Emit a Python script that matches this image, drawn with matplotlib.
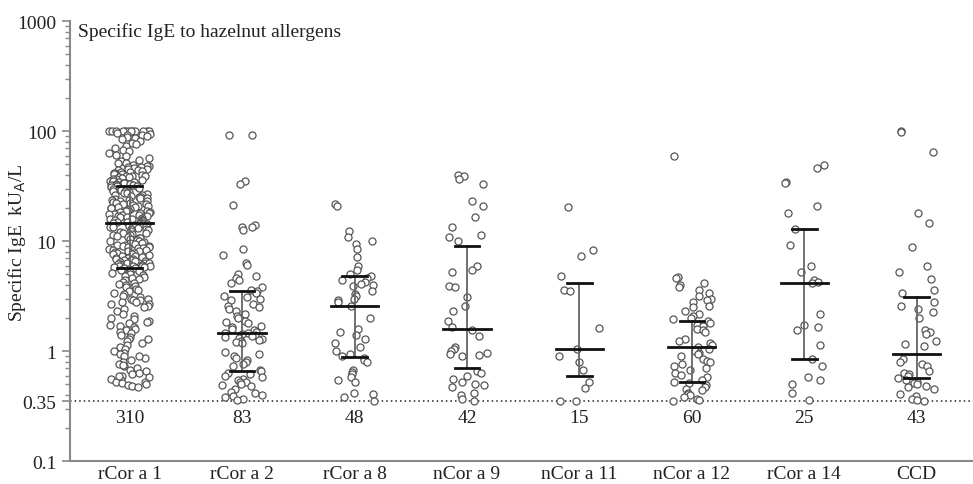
import matplotlib.pyplot as plt
import numpy as np
from matplotlib.ticker import FixedLocator, LogLocator, NullFormatter

plt.rcParams['font.family'] = ['Liberation Serif', 'DejaVu Serif']

allergens = ['rCor a 1', 'rCor a 2', 'rCor a 8', 'nCor a 9',
             'nCor a 11', 'nCor a 12', 'rCor a 14', 'CCD']

# specific IgE per patient, kUA/L (values < 0.35 shown at 0.35, > 100 at 100)
rcor_a1 = [
    100, 100, 100, 100, 100, 100, 100, 100, 100, 100,
    100, 100, 97, 95, 93, 92, 90, 88, 87, 85,
    82, 79, 76, 73, 70, 68, 66, 63, 61, 59,
    57, 55, 54, 52, 51, 49.5, 48.7, 47.9, 47.5, 47.1,
    46.3, 45.5, 45.0, 44.8, 44.1, 43.4, 43.0, 42.7, 42.0, 41.4,
    41.0, 40.8, 40.2, 39.6, 39.3, 39.0, 38.5, 38.0, 37.5, 37.2,
    37.0, 36.5, 36.0, 35.6, 35.4, 35.2, 34.8, 34.4, 34.0, 33.9,
    33.7, 33.4, 33.1, 32.8, 32.6, 32.5, 32.2, 31.9, 31.5, 31.0,
    30.6, 30.1, 29.7, 29.2, 28.8, 28.4, 28.0, 27.6, 27.2, 26.8,
    26.5, 26.1, 25.8, 25.4, 25.1, 24.8, 24.5, 24.2, 23.9, 23.6,
    23.3, 23.0, 22.7, 22.4, 22.2, 21.9, 21.6, 21.4, 21.1, 20.9,
    20.6, 20.4, 20.1, 19.9, 19.7, 19.4, 19.2, 19.0, 18.8, 18.6,
    18.4, 18.2, 18.0, 17.8, 17.6, 17.4, 17.2, 17.0, 16.8, 16.7,
    16.5, 16.3, 16.1, 16.0, 15.8, 15.7, 15.5, 15.3, 15.2, 15.0,
    14.9, 14.8, 14.7, 14.6, 14.6, 14.5, 14.4, 14.3, 14.1, 13.9,
    13.8, 13.6, 13.4, 13.2, 13.0, 12.8, 12.6, 12.4, 12.2, 12.0,
    11.8, 11.6, 11.5, 11.3, 11.1, 10.9, 10.8, 10.6, 10.4, 10.3,
    10.1, 10.0, 9.9, 9.7, 9.6, 9.5, 9.3, 9.2, 9.1, 9.0,
    8.9, 8.8, 8.7, 8.6, 8.5, 8.4, 8.3, 8.2, 8.1, 8.0,
    7.9, 7.8, 7.7, 7.6, 7.5, 7.4, 7.3, 7.2, 7.1, 7.0,
    6.9, 6.9, 6.8, 6.7, 6.6, 6.6, 6.5, 6.4, 6.4, 6.3,
    6.2, 6.2, 6.1, 6.0, 6.0, 5.9, 5.9, 5.8, 5.8, 5.7,
    5.7, 5.6, 5.5, 5.4, 5.3, 5.2, 5.1, 5.0, 4.9, 4.8,
    4.7, 4.6, 4.5, 4.4, 4.3, 4.2, 4.1, 4.0, 3.9, 3.8,
    3.7, 3.6, 3.5, 3.4, 3.3, 3.2, 3.1, 3.0, 3.0, 2.9,
    2.9, 2.8, 2.8, 2.7, 2.7, 2.6, 2.5, 2.4, 2.3, 2.2,
    2.1, 2.0, 1.95, 1.9, 1.85, 1.8, 1.75, 1.7, 1.65, 1.6,
    1.55, 1.5, 1.45, 1.4, 1.35, 1.3, 1.25, 1.2, 1.15, 1.1,
    1.05, 1.0, 0.97, 0.94, 0.9, 0.87, 0.84, 0.8, 0.77, 0.74,
    0.71, 0.68, 0.66, 0.64, 0.62, 0.6, 0.58, 0.56, 0.55, 0.53,
    0.52, 0.51, 0.5, 0.49, 0.48, 0.47, 0.6, 0.75, 0.9, 1.3,
]
rcor_a2 = [
    92, 93, 35, 33, 21.5, 14.0, 13.6, 13.4, 12.6, 8.5,
    7.5, 6.3, 6.1, 5.0, 4.8, 4.6, 4.4, 4.2, 3.8, 3.6,
    3.5, 3.4, 3.2, 3.1, 3.0, 2.9, 2.7, 2.6, 2.5, 2.4,
    2.3, 2.2, 2.1, 2.0, 1.9, 1.85, 1.8, 1.7, 1.65, 1.6,
    1.55, 1.5, 1.47, 1.45, 1.42, 1.4, 1.38, 1.35, 1.32, 1.3,
    1.27, 1.25, 1.22, 1.2, 0.98, 0.95, 0.9, 0.86, 0.83, 0.8,
    0.76, 0.73, 0.68, 0.66, 0.64, 0.62, 0.6, 0.58, 0.56, 0.55,
    0.53, 0.52, 0.5, 0.49, 0.48, 0.45, 0.43, 0.42, 0.4, 0.39,
    0.38, 0.37, 0.36,
]
rcor_a8 = [
    22, 21, 12.5, 11.0, 10.0, 9.5, 8.5, 7.2, 6.0, 5.5,
    5.0, 4.8, 4.6, 4.4, 4.3, 4.1, 4.0, 3.9, 3.5, 3.3,
    3.2, 3.0, 2.9, 2.8, 2.57, 2.0, 1.6, 1.5, 1.4, 1.3,
    1.2, 1.1, 1.0, 0.95, 0.9, 0.87, 0.84, 0.8, 0.68, 0.65,
    0.62, 0.58, 0.55, 0.52, 0.42, 0.41, 0.38, 0.35,
]
ncor_a9 = [
    40, 39, 36.5, 33.5, 23, 21, 16.5, 13.5, 11.5, 11.0,
    10.0, 5.9, 5.5, 5.2, 3.9, 3.8, 3.1, 2.6, 2.3, 1.9,
    1.65, 1.55, 1.37, 1.09, 1.05, 1.0, 0.97, 0.95, 0.92, 0.9,
    0.66, 0.63, 0.6, 0.56, 0.52, 0.5, 0.49, 0.47, 0.42, 0.4,
    0.37, 0.35,
]
ncor_a11 = [20.3, 8.4, 7.3, 4.8, 3.6, 3.5, 1.62, 1.04, 0.9, 0.8,
            0.67, 0.52, 0.46, 0.35, 0.35]
ncor_a12 = [
    60, 4.7, 4.6, 4.2, 4.0, 3.8, 3.6, 3.4, 3.2, 3.0,
    2.9, 2.8, 2.6, 2.5, 2.3, 2.2, 2.1, 2.0, 1.95, 1.9,
    1.8, 1.75, 1.7, 1.6, 1.55, 1.5, 1.3, 1.25, 1.2, 1.15,
    1.1, 1.05, 1.0, 0.97, 0.94, 0.9, 0.85, 0.82, 0.8, 0.77,
    0.74, 0.7, 0.67, 0.64, 0.61, 0.58, 0.55, 0.53, 0.51, 0.49,
    0.47, 0.45, 0.44, 0.42, 0.41, 0.4, 0.38, 0.37, 0.36, 0.35,
]
rcor_a14 = [49, 46, 34.5, 34, 20.8, 17.9, 12.9, 9.2, 5.9, 5.2,
            4.4, 4.3, 4.15, 2.17, 1.72, 1.65, 1.55, 1.13, 0.85, 0.73,
            0.58, 0.55, 0.5, 0.42, 0.36]
ccd = [
    100, 98, 65, 18, 14.6, 8.8, 5.9, 5.3, 4.5, 3.6,
    3.4, 2.8, 2.6, 2.4, 2.26, 2.0, 1.55, 1.5, 1.43, 1.23,
    1.17, 1.11, 0.85, 0.8, 0.76, 0.73, 0.66, 0.64, 0.62, 0.6,
    0.57, 0.55, 0.53, 0.51, 0.5, 0.48, 0.47, 0.45, 0.41, 0.39,
    0.37, 0.36, 0.35,
]
groups = [rcor_a1, rcor_a2, rcor_a8, ncor_a9, ncor_a11, ncor_a12, rcor_a14, ccd]

# median and interquartile range per allergen
medians = [14.6, 1.48, 2.57, 1.58, 1.04, 1.09, 4.15, 0.94]
q1 = [5.7, 0.66, 0.88, 0.70, 0.60, 0.52, 0.85, 0.57]
q3 = [31.8, 3.5, 4.8, 9.0, 4.2, 1.9, 12.8, 3.1]
cutoff = 0.35

fig = plt.figure(figsize=(9.73, 4.85), dpi=100)
ax = fig.add_axes([0.072, 0.047, 0.928, 0.907])

for k, vals in enumerate(groups):
    vals = np.asarray(vals, dtype=float)
    idx = np.arange(len(vals))
    # deterministic scatter of the points across the column
    h = np.sin(idx * 12.9898 + k * 78.233) * 43758.5453
    off = (h - np.floor(h)) * 2 - 1
    x = k + 0.18 * off
    ax.scatter(x, vals, s=26, facecolor='white', edgecolor='#555555',
               linewidth=0.9, zorder=3)
    # IQR whisker with caps, median bar
    ax.plot([k, k], [q1[k], q3[k]], color='#666666', lw=1.3, zorder=4)
    ax.plot([k - 0.11, k + 0.11], [q1[k], q1[k]], color='#111111', lw=2, zorder=4)
    ax.plot([k - 0.11, k + 0.11], [q3[k], q3[k]], color='#111111', lw=2, zorder=4)
    ax.plot([k - 0.21, k + 0.21], [medians[k], medians[k]], color='#111111', lw=2, zorder=5)
    ax.text(k, 0.25, str(len(vals)), ha='center', va='center', fontsize=14,
            color='#222222')

ax.axhline(cutoff, color='#222222', lw=1.1, ls=(0, (1, 2)), zorder=2)

ax.set_yscale('log')
ax.set_ylim(0.1, 1000)
ax.set_xlim(-0.53, 7.5)
ax.yaxis.set_major_locator(FixedLocator([0.1, 0.35, 1, 10, 100, 1000]))
ax.set_yticklabels(['0.1', '0.35', '1', '10', '100', '1000'])
ax.yaxis.set_minor_locator(LogLocator(base=10, subs=np.arange(2, 10)))
ax.yaxis.set_minor_formatter(NullFormatter())
ax.set_xticks(range(len(allergens)))
ax.set_xticklabels(allergens)

for s in ['top', 'right']:
    ax.spines[s].set_visible(False)
for s in ['left', 'bottom']:
    ax.spines[s].set_color('#888888')
    ax.spines[s].set_linewidth(1.5)
ax.tick_params(axis='y', which='major', length=6, width=1.2, color='#888888',
               labelsize=14, labelcolor='#222222', pad=4)
ax.tick_params(axis='y', which='minor', length=3.5, width=1, color='#888888')
ax.tick_params(axis='x', length=0, labelsize=14, labelcolor='#222222', pad=3)

ax.set_ylabel('Specific IgE  kU$_\\mathrm{A}$/L', fontsize=14, color='#222222')
ax.yaxis.set_label_coords(-0.047, 0.5)
ax.text(0.009, 0.977, 'Specific IgE to hazelnut allergens', transform=ax.transAxes,
        ha='left', va='center', fontsize=14, color='#222222')

fig.savefig('out.png', dpi=100)
